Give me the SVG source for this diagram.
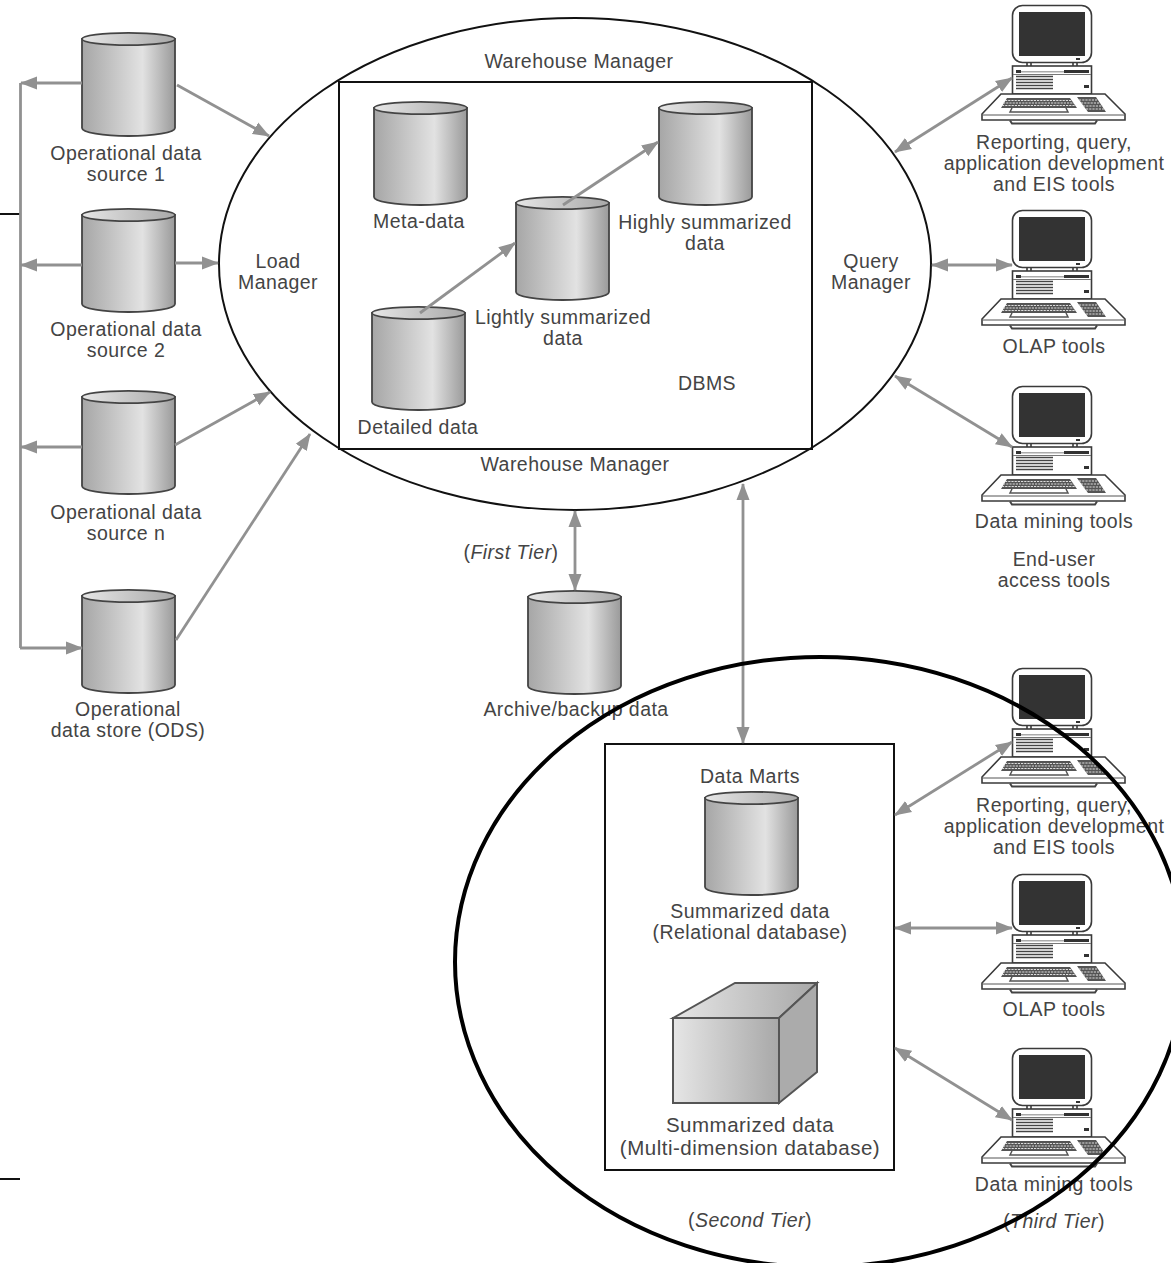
<svg xmlns="http://www.w3.org/2000/svg" width="1171" height="1263" viewBox="0 0 1171 1263">
<style>
text{font-family:"Liberation Sans",Arial,sans-serif;font-size:19.5px;letter-spacing:.45px;fill:#444;text-anchor:middle;transform:translateY(.7px)}
.big{font-size:20.5px;letter-spacing:.5px}
.i{font-style:italic}
.c{fill:none;stroke:#919191;stroke-width:2.8;marker-end:url(#a)}
.b{fill:none;stroke:#919191;stroke-width:2.8;marker-start:url(#s);marker-end:url(#a)}
.p{fill:none;stroke:#919191;stroke-width:2.8}
.o{fill:none;stroke:#111;stroke-width:2}
.m{fill:#fff;stroke:#3a3a3a;stroke-width:1.6}
</style>
<defs>
<linearGradient id="g1"><stop offset="0" stop-color="#a6a6a6"/><stop offset=".65" stop-color="#e2e2e2"/><stop offset="1" stop-color="#9a9a9a"/></linearGradient>
<linearGradient id="g2"><stop offset="0" stop-color="#e6e6e6"/><stop offset="1" stop-color="#a8a8a8"/></linearGradient>
<marker id="a" markerWidth="17" markerHeight="14" refX="16" refY="7" orient="auto" markerUnits="userSpaceOnUse"><path d="M0 .5L17 7L0 13.500z" fill="#919191"/></marker>
<marker id="s" markerWidth="17" markerHeight="14" refX="1" refY="7" orient="auto" markerUnits="userSpaceOnUse"><path d="M17 .5L0 7L17 13.500z" fill="#919191"/></marker>
<g id="cyl">
<path d="M0 6V95A46.500 8 0 0 0 93 95V6z" fill="url(#g1)" stroke="#444" stroke-width="1.800"/>
<ellipse cx="46.500" cy="6" rx="46.500" ry="6.200" fill="url(#g2)" stroke="#444" stroke-width="1.800"/>
</g>
<g id="pc">
<path class="m" d="M1027 62h4v5h-4zM1073 62h4v5h-4z"/>
<rect class="m" x="1012.500" y="5.500" width="79" height="57" rx="10" stroke-width="2"/>
<rect x="1019" y="12" width="66" height="44" fill="#333"/>
<rect x="1076" y="58" width="4" height="2" fill="#333"/>
<rect class="m" x="1012.500" y="66" width="79" height="28"/>
<path d="M1013 74.500h78" stroke="#777" stroke-width="1" fill="none"/>
<rect x="1016" y="70" width="5" height="3" fill="#333"/>
<rect x="1064" y="70" width="25" height="3" fill="#333"/>
<rect x="1021" y="71" width="43" height="1.500" fill="#aaa"/>
<rect x="1084" y="85" width="5" height="3" fill="#333"/>
<path d="M1016 76.500h37M1016 79.500h37M1016 82.500h37M1016 85.500h37M1016 88.500h37" stroke="#444" stroke-width="1.500" fill="none"/>
<path class="m" d="M1001 94H1105L1125 114V120H982V114z" stroke-width="2"/>
<path d="M983 115H1124" fill="none" stroke="#555" stroke-width="1"/>
<path d="M1010 120.500L1012 123.500H1095L1097 120.500" fill="none" stroke="#444" stroke-width="2"/>
<path d="M1007 98H1070L1077 108H1001z" fill="#555"/>
<path d="M1077 97H1096L1106 112H1088z" fill="#555"/>
<path d="M1005 100.500h67M1003 103h71M1002 105.500h74M1079 100h18M1081 103h19M1083 106h20M1086 109h19" stroke="#ddd" stroke-width="1.100" stroke-dasharray="2.200 1" fill="none"/>
<path d="M1012 108L1010 112H1068L1066 108" fill="#fff" stroke="#555" stroke-width="1.500"/>
</g>
</defs>
<g id="wm-ellipse"><ellipse class="o" cx="575" cy="264" rx="356" ry="246"/></g>
<g id="dbms-box"><rect class="o" x="339" y="82" width="473" height="367"/></g>
<g id="marts-box"><rect class="o" x="605" y="744" width="289" height="426"/></g>
<g id="edge-marks"><path d="M0 214H20M0 1179H20" stroke="#111" stroke-width="2" fill="none"/></g>
<g id="source1"><use href="#cyl" x="82" y="33"/><text x="126" y="159">Operational data</text><text x="126" y="180">source 1</text></g>
<g id="source2"><use href="#cyl" x="82" y="209"/><text x="126" y="335">Operational data</text><text x="126" y="356">source 2</text></g>
<g id="sourcen"><use href="#cyl" x="82" y="391"/><text x="126" y="518">Operational data</text><text x="126" y="539">source n</text></g>
<g id="ods"><use href="#cyl" x="82" y="590"/><text x="128" y="715">Operational</text><text x="128" y="736">data store (ODS)</text></g>
<g id="metadata"><use href="#cyl" x="374" y="102"/><text x="419" y="227">Meta-data</text></g>
<g id="highly"><use href="#cyl" x="659" y="102"/><text x="705" y="228">Highly summarized</text><text x="705" y="249">data</text></g>
<g id="lightly"><use href="#cyl" x="516" y="197"/><text x="563" y="323">Lightly summarized</text><text x="563" y="344">data</text></g>
<g id="detailed"><use href="#cyl" x="372" y="307"/><text x="418" y="433">Detailed data</text></g>
<g id="archive"><use href="#cyl" x="528" y="591"/><text x="576" y="715">Archive/backup data</text></g>
<g id="relational"><use href="#cyl" x="705" y="792"/><text x="750" y="782">Data Marts</text><text x="750" y="917">Summarized data</text><text x="750" y="938">(Relational database)</text></g>
<g id="cube">
<path d="M673 1018L735 983H817L779 1018z" fill="url(#g2)" stroke="#555" stroke-width="2"/>
<path d="M779 1018L817 983V1072L779 1103z" fill="#ababab" stroke="#555" stroke-width="2"/>
<rect x="673" y="1018" width="106" height="85" fill="url(#g2)" stroke="#555" stroke-width="2"/>
<text class="big" x="750" y="1131">Summarized data</text><text class="big" x="750" y="1154">(Multi-dimension database)</text>
</g>
<g id="labels">
<text x="579" y="67">Warehouse Manager</text>
<text x="575" y="470">Warehouse Manager</text>
<text x="278" y="267">Load</text><text x="278" y="288">Manager</text>
<text x="871" y="267">Query</text><text x="871" y="288">Manager</text>
<text x="707" y="389">DBMS</text>
<text x="511" y="558">(<tspan class="i">First Tier</tspan>)</text>
<text x="750" y="1226">(<tspan class="i">Second Tier</tspan>)</text>
<text x="1054" y="1227">(<tspan class="i">Third Tier</tspan>)</text>
<text x="1054" y="565">End-user</text><text x="1054" y="586">access tools</text>
</g>
<g id="pc1"><use href="#pc"/><text x="1054" y="148">Reporting, query,</text><text x="1054" y="169">application development</text><text x="1054" y="190">and EIS tools</text></g>
<g id="pc2"><use href="#pc" y="205"/><text x="1054" y="352">OLAP tools</text></g>
<g id="pc3"><use href="#pc" y="381"/><text x="1054" y="527">Data mining tools</text></g>
<g id="pc4"><use href="#pc" y="663"/><text x="1054" y="811">Reporting, query,</text><text x="1054" y="832">application development</text><text x="1054" y="853">and EIS tools</text></g>
<g id="pc5"><use href="#pc" y="869"/><text x="1054" y="1015">OLAP tools</text></g>
<g id="pc6"><use href="#pc" y="1043"/><text x="1054" y="1190">Data mining tools</text></g>
<g id="connectors">
<path class="p" d="M20.500 83V648"/>
<path class="c" d="M82 83H21"/>
<path class="c" d="M82 265H21"/>
<path class="c" d="M175 263H218"/>
<path class="c" d="M82 447H21"/>
<path class="c" d="M20 648H82"/>
<path class="c" d="M177 85L269 136"/>
<path class="c" d="M175 445L270 392"/>
<path class="c" d="M176 640L310 434"/>
<path class="c" d="M420 313L515 243"/>
<path class="c" d="M563 205L658 142"/>
<path class="b" d="M895 152L1012 78"/>
<path class="b" d="M932 265H1012"/>
<path class="b" d="M895 376L1012 447"/>
<path class="b" d="M575 511V590"/>
<path class="b" d="M743 484V743"/>
<path class="b" d="M895 815L1012 742"/>
<path class="b" d="M895 928H1012"/>
<path class="b" d="M895 1048L1012 1120"/>
</g>
<g id="tier-ellipse"><ellipse cx="820" cy="962" rx="365" ry="305" fill="none" stroke="#000" stroke-width="4"/></g>
</svg>
